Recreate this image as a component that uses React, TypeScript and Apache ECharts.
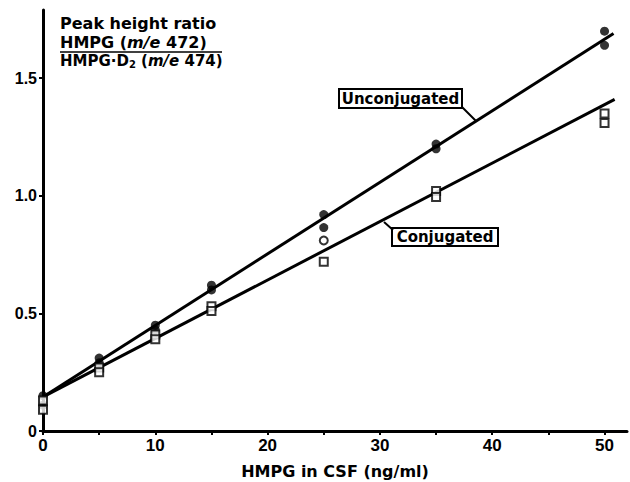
import React, { useEffect, useRef } from "react";
import * as echarts from "echarts";

// Concentrations (ng/ml)
const unconjX = [0, 0, 5, 5, 10, 10, 15, 15, 25, 25, 35, 35, 50, 50];
const unconjY = [0.15, 0.11, 0.31, 0.29, 0.45, 0.43, 0.62, 0.6, 0.92, 0.865, 1.22, 1.2, 1.7, 1.64];
const conjX = [0, 0, 5, 5, 10, 10, 15, 15, 25, 25, 35, 35, 50, 50];
const conjY = [0.13, 0.09, 0.27, 0.25, 0.41, 0.39, 0.53, 0.51, 0.81, 0.72, 1.02, 0.995, 1.35, 1.31];
const conjOpenCircleIndex = 8;
const unconjFitX = [0, 50.8];
const unconjFitY = [0.145, 1.69];
const conjFitX = [0, 50.9];
const conjFitY = [0.145, 1.41];
const xTickValues = [0, 5, 10, 15, 20, 25, 30, 35, 40, 45, 50];
const xLabelValues = [0, 10, 20, 30, 40, 50];
const yTickValues = [0, 0.5, 1.0, 1.5];

const BOLD = "DejaVu Sans";
const NUM = "Liberation Sans";

export default function App() {
  const ref = useRef<HTMLDivElement>(null);
  useEffect(() => {
    if (!ref.current) return;
    const chart = echarts.init(ref.current, null, { renderer: "svg" });
    const textCommon = { fontFamily: BOLD, fontWeight: "bold", fill: "#000" };
    chart.setOption({
      animation: false,
      backgroundColor: "#fff",
      grid: { left: 43, right: 3, top: 10, bottom: 51, outerBoundsMode: "none", containLabel: false },
      xAxis: {
        type: "value",
        min: 0,
        max: 52,
        interval: 5,
        splitLine: { show: false },
        axisLine: { lineStyle: { color: "#000", width: 3 } },
        axisTick: { show: true, length: 4, lineStyle: { color: "#000", width: 2 }, customValues: xTickValues },
        axisLabel: {
          customValues: xLabelValues,
          color: "#000",
          fontFamily: NUM,
          fontWeight: "bold",
          fontSize: 17,
          margin: 6,
          formatter: (v: number) => String(v),
        },
        name: "HMPG in CSF (ng/ml)",
        nameLocation: "middle",
        nameGap: 32,
        nameTextStyle: { color: "#000", fontFamily: BOLD, fontWeight: "bold", fontSize: 16 },
      },
      yAxis: {
        type: "value",
        min: 0,
        max: 1.79,
        interval: 0.5,
        splitLine: { show: false },
        axisLine: { lineStyle: { color: "#000", width: 3 } },
        axisTick: { show: true, length: 4, lineStyle: { color: "#000", width: 2 }, customValues: yTickValues },
        axisLabel: {
          customValues: yTickValues,
          color: "#000",
          fontFamily: NUM,
          fontWeight: "bold",
          fontSize: 16,
          margin: 6,
          formatter: (v: number) => (v === 0 ? "0" : v.toFixed(1)),
        },
      },
      series: [
        {
          type: "line",
          data: unconjFitX.map((x, i) => [x, unconjFitY[i]]),
          symbol: "none",
          lineStyle: { color: "#000", width: 3 },
          z: 2,
        },
        {
          type: "line",
          data: conjFitX.map((x, i) => [x, conjFitY[i]]),
          symbol: "none",
          lineStyle: { color: "#000", width: 3 },
          z: 2,
        },
        {
          type: "scatter",
          data: unconjX.map((x, i) => [x, unconjY[i]]),
          symbol: "circle",
          symbolSize: 9,
          itemStyle: { color: "#000" },
          z: 3,
        },
        {
          type: "scatter",
          data: conjX.map((x, i) =>
            i === conjOpenCircleIndex
              ? { value: [x, conjY[i]], symbol: "circle" }
              : { value: [x, conjY[i]] }
          ),
          symbol: "rect",
          symbolSize: 8,
          itemStyle: { color: "#fff", borderColor: "#000", borderWidth: 2 },
          z: 4,
        },
      ],
      graphic: [
        {
          type: "text",
          left: 60,
          top: 15,
          style: { ...textCommon, text: "Peak height ratio", fontSize: 16 },
        },
        {
          type: "text",
          left: 60,
          top: 34,
          style: {
            ...textCommon,
            text: "{n|HMPG (}{i|m/e}{n| 472)}",
            rich: {
              n: { fontFamily: BOLD, fontWeight: "bold", fontSize: 16, fill: "#000" },
              i: { fontFamily: BOLD, fontWeight: "bold", fontStyle: "italic", fontSize: 16, fill: "#000" },
            },
          },
        },
        {
          type: "line",
          shape: { x1: 60, y1: 52, x2: 222, y2: 52 },
          style: { stroke: "#000", lineWidth: 1.5 },
        },
        {
          type: "text",
          left: 60,
          top: 53,
          style: {
            ...textCommon,
            text: "{n|HMPG·D}{s|2}{n| (}{i|m/e}{n| 474)}",
            rich: {
              n: { fontFamily: BOLD, fontWeight: "bold", fontSize: 15, fill: "#000", lineHeight: 18 },
              i: { fontFamily: BOLD, fontWeight: "bold", fontStyle: "italic", fontSize: 15, fill: "#000", lineHeight: 18 },
              s: { fontFamily: BOLD, fontWeight: "bold", fontSize: 10, fill: "#000", lineHeight: 18, verticalAlign: "bottom", padding: [6, 0, 0, 0] },
            },
          },
        },
        {
          type: "rect",
          shape: { x: 339, y: 89, width: 123, height: 19 },
          style: { fill: "#fff", stroke: "#000", lineWidth: 2 },
          z: 10,
        },
        {
          type: "text",
          x: 400.5,
          y: 98.5,
          style: { ...textCommon, text: "Unconjugated", fontSize: 15, align: "center", verticalAlign: "middle" },
          z: 11,
        },
        {
          type: "line",
          shape: { x1: 462, y1: 107, x2: 476, y2: 121 },
          style: { stroke: "#000", lineWidth: 2 },
          z: 10,
        },
        {
          type: "rect",
          shape: { x: 392, y: 228, width: 106, height: 18 },
          style: { fill: "#fff", stroke: "#000", lineWidth: 2 },
          z: 10,
        },
        {
          type: "text",
          x: 445,
          y: 237,
          style: { ...textCommon, text: "Conjugated", fontSize: 15, align: "center", verticalAlign: "middle" },
          z: 11,
        },
        {
          type: "line",
          shape: { x1: 384, y1: 222, x2: 393, y2: 230 },
          style: { stroke: "#000", lineWidth: 2 },
          z: 10,
        },
      ],
    });
    return () => chart.dispose();
  }, []);
  return (
    <div
      ref={ref}
      style={{ position: "absolute", left: 0, top: 0, width: 630, height: 482 }}
    />
  );
}
